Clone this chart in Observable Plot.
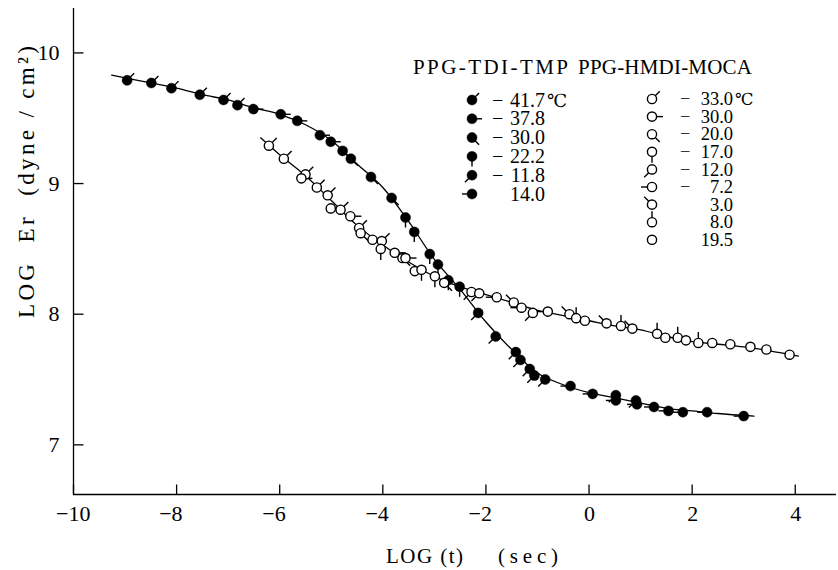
<!DOCTYPE html>
<html><head><meta charset="utf-8">
<script src="https://cdn.jsdelivr.net/npm/d3@7"></script>
<script src="https://cdn.jsdelivr.net/npm/@observablehq/plot@0.6"></script>
<style>html,body{margin:0;padding:0;background:#fff} svg{display:block}</style>
</head><body><div id="chart"></div>
<script>
// ---- data ----
const xTicks = [-10, -8, -6, -4, -2, 0, 2, 4];
const yTicks = [7, 8, 9, 10];

// PPG-TDI-TMP (filled circles)
const tmpX = [-8.96,-8.49,-8.10,-7.55,-7.09,-6.82,-6.51,-5.98,-5.66,-5.22,-5.01,-4.78,-4.62,-4.23,-3.83,-3.56,-3.39,-3.09,-2.93,-2.73,-2.51,-2.15,-1.81,-1.42,-1.33,-1.15,-1.06,-0.85,-0.36,0.07,0.52,0.52,0.91,0.93,1.26,1.54,1.82,2.29,3.00];
const tmpY = [9.79,9.77,9.73,9.68,9.64,9.60,9.57,9.53,9.48,9.37,9.32,9.25,9.19,9.05,8.89,8.74,8.63,8.46,8.38,8.26,8.21,8.01,7.83,7.71,7.65,7.58,7.53,7.50,7.45,7.39,7.38,7.34,7.34,7.31,7.29,7.26,7.25,7.25,7.22];
const tmpT = [-41.7,-41.7,-41.7,-41.7,-41.7,-41.7,-37.8,-37.8,-37.8,-37.8,-37.8,-30,-30,-30,-30,-22.2,-22.2,-22.2,-22.2,-22.2,-22.2,-11.8,-11.8,-11.8,-11.8,-11.8,-11.8,-11.8,14,14,-11.8,14,-11.8,14,14,14,14,14,14];
const tmpCurveX = [-9.26,-8.5,-8,-7.5,-7,-6.5,-6,-5.5,-5,-4.5,-4,-3.5,-3,-2.5,-2,-1.5,-1,-0.5,0,0.5,1,1.5,2,2.5,3.2];
const tmpCurveY = [9.83,9.77,9.73,9.68,9.64,9.58,9.53,9.45,9.33,9.15,8.97,8.71,8.42,8.19,7.94,7.73,7.55,7.46,7.40,7.36,7.32,7.28,7.26,7.24,7.22];
const tmpTemps = [-41.7, -37.8, -30.0, -22.2, -11.8, 14.0];
const tmpFlags = [45, 90, 135, 180, 225, 270];

// PPG-HMDI-MOCA (open circles)
const mocaX = [-6.21,-5.92,-5.50,-5.58,-5.28,-5.07,-5.01,-4.82,-4.63,-4.46,-4.43,-4.20,-4.02,-4.04,-3.77,-3.62,-3.56,-3.38,-3.25,-2.99,-2.81,-2.28,-2.13,-1.79,-1.46,-1.31,-1.09,-0.80,-0.38,-0.25,-0.08,0.34,0.62,0.84,1.32,1.48,1.72,1.88,2.12,2.39,2.74,3.13,3.44,3.89];
const mocaY = [9.29,9.19,9.07,9.04,8.97,8.91,8.81,8.80,8.75,8.66,8.62,8.57,8.56,8.50,8.47,8.43,8.43,8.33,8.34,8.29,8.24,8.17,8.16,8.13,8.09,8.05,8.01,8.02,8.00,7.97,7.95,7.93,7.91,7.89,7.85,7.82,7.82,7.80,7.78,7.78,7.77,7.75,7.73,7.69];
const mocaT = [-33,-33,-33,-30,-33,-33,-30,-33,-30,-33,-20,-30,-33,-17,-30,-20,-30,-30,-17,-17,-20,-12,-12,-7.2,3,-7.2,-12,-7.2,3,8,-7.2,3,8,3,8,3,8,-7.2,8,19.5,19.5,19.5,19.5,19.5];
const mocaCurveX = [-6.37,-6,-5.5,-5,-4.5,-4,-3.5,-3,-2.5,-2,-1.5,-1,-0.5,0,0.5,1,1.5,2,2.5,3,3.5,4.06];
const mocaCurveY = [9.35,9.22,9.06,8.87,8.68,8.53,8.40,8.29,8.21,8.15,8.09,8.03,7.99,7.95,7.91,7.88,7.83,7.79,7.77,7.75,7.72,7.68];
const mocaTemps = [-33.0, -30.0, -20.0, -17.0, -12.0, -7.2, 3.0, 8.0, 19.5];
const mocaFlags = [45, 90, 135, 180, 225, 270, 315, 0, null];

const xDomain = [-10, 4.8];
const yDomain = [6.62, 10.34];

// ---- build tables ----
const flagOf = (temps, flags) => t => flags[temps.findIndex(v => Math.abs(v - t) < 1e-6)];
const tmpFlag = flagOf(tmpTemps, tmpFlags);
const mocaFlag = flagOf(mocaTemps, mocaFlags);
const tmpPts = tmpX.map((x, i) => ({x, y: tmpY[i], a: tmpFlag(tmpT[i])}));
const mocaPts = mocaX.map((x, i) => ({x, y: mocaY[i], a: mocaFlag(mocaT[i])}));
const tmpCurve = tmpCurveX.map((x, i) => ({x, y: tmpCurveY[i]}));
const mocaCurve = mocaCurveX.map((x, i) => ({x, y: mocaCurveY[i]}));

const stem = {draw(ctx, size) { const r = Math.sqrt(size / Math.PI); ctx.moveTo(0, 0); ctx.lineTo(0, -r); }};
const minus = v => (v < 0 ? "\u2212" : "") + Math.abs(v);
const serif = "'Liberation Serif','DejaVu Serif',serif";

const plot = Plot.plot({
  width: 838, height: 570,
  marginLeft: 73, marginRight: 2, marginTop: 8, marginBottom: 76,
  x: {domain: xDomain, axis: null},
  y: {domain: yDomain, axis: null},
  style: {fontFamily: serif, fontSize: "21px", background: "#fff", color: "#000"},
  marks: [
    Plot.ruleX([xDomain[0]], {stroke: "#000", strokeWidth: 1.3}),
    Plot.ruleY([yDomain[0]], {stroke: "#000", strokeWidth: 1.3}),
    Plot.dot(yTicks, {x: () => xDomain[0], y: d => d, r: 10, symbol: stem, rotate: 90, stroke: "#000", fill: "none", strokeWidth: 1.3}),
    Plot.dot(xTicks, {x: d => d, y: () => yDomain[0], r: 10, symbol: stem, rotate: 0, stroke: "#000", fill: "none", strokeWidth: 1.3}),
    Plot.text(yTicks, {x: () => xDomain[0], y: d => d, text: d => String(d), textAnchor: "end", dx: -14, fontSize: 22, fill: "#000"}),
    Plot.text(xTicks.filter(d => Math.abs(d) < 10), {x: d => d, y: () => yDomain[0], text: minus, textAnchor: "end", dx: 6, dy: 19, fontSize: 22, fill: "#000"}),
    Plot.text(xTicks.filter(d => Math.abs(d) >= 10), {x: d => d, y: () => yDomain[0], text: minus, textAnchor: "end", dx: 17, dy: 19, fontSize: 22, fill: "#000"}),
    Plot.line(tmpCurve, {x: "x", y: "y", curve: "catmull-rom", stroke: "#000", strokeWidth: 1.3}),
    Plot.line(mocaCurve, {x: "x", y: "y", curve: "catmull-rom", stroke: "#000", strokeWidth: 1.3}),
    Plot.dot(tmpPts.filter(d => d.a != null), {x: "x", y: "y", r: 10, symbol: stem, rotate: "a", stroke: "#000", fill: "none", strokeWidth: 1.4}),
    Plot.dot(mocaPts.filter(d => d.a != null), {x: "x", y: "y", r: 11, symbol: stem, rotate: "a", stroke: "#000", fill: "none", strokeWidth: 1.4}),
    Plot.dot(tmpPts, {x: "x", y: "y", r: 5, fill: "#000", stroke: "#000", strokeWidth: 0.5}),
    Plot.dot(mocaPts, {x: "x", y: "y", r: 4.6, fill: "#fff", stroke: "#000", strokeWidth: 1.4})
  ]
});

const svg = d3.select(plot);
const g = svg.append("g").attr("font-family", serif).attr("fill", "#000").attr("text-anchor", "start");

// axis titles
g.append("text").attr("x", 386).attr("y", 563).attr("font-size", 21).attr("textLength", 77).attr("lengthAdjust", "spacing").text("LOG (t)");
g.append("text").attr("x", 498).attr("y", 563).attr("font-size", 21).attr("textLength", 60).attr("lengthAdjust", "spacing").text("(sec)");
g.append("text").attr("transform", "translate(34,318) rotate(-90)")
  .attr("font-size", 23).attr("textLength", 272).attr("lengthAdjust", "spacing").text("LOG  Er  (dyne / cm²)");

// legend titles
g.append("text").attr("x", 413).attr("y", 74).attr("font-size", 21).attr("textLength", 155).attr("lengthAdjust", "spacing").text("PPG-TDI-TMP");
g.append("text").attr("x", 578).attr("y", 74).attr("font-size", 21).attr("textLength", 174).attr("lengthAdjust", "spacing").text("PPG-HMDI-MOCA");

// legend columns: symbols, then one multi-line text per column part
function legendColumn(temps, flags, cx, y0, step, filled, minusX, numEnd, fs) {
  const ys = temps.map((t, i) => y0 + i * step);
  temps.forEach((t, i) => {
    const cy = ys[i], angle = flags[i];
    if (angle != null) {
      const rad = angle * Math.PI / 180, L = filled ? 10 : 11;
      g.append("line").attr("x1", cx).attr("y1", cy)
        .attr("x2", cx + L * Math.sin(rad)).attr("y2", cy - L * Math.cos(rad))
        .attr("stroke", "#000").attr("stroke-width", 1.4);
    }
    g.append("circle").attr("cx", cx).attr("cy", cy).attr("r", filled ? 5 : 4.6)
      .attr("fill", filled ? "#000" : "#fff").attr("stroke", "#000").attr("stroke-width", filled ? 0.5 : 1.4);
  });
  const off = fs * 0.33;
  const tm = g.append("text").attr("font-size", fs);
  temps.forEach((t, i) => { if (t < 0) tm.append("tspan").attr("x", minusX).attr("y", ys[i] + off).text("\u2212"); });
  const tn = g.append("text").attr("font-size", fs).attr("text-anchor", "end");
  temps.forEach((t, i) => tn.append("tspan").attr("x", numEnd).attr("y", ys[i] + off).text(Math.abs(t).toFixed(1)));
  g.append("text").attr("x", numEnd + 2).attr("y", ys[0] + off).attr("font-size", fs - 2).text("℃");
}
legendColumn(tmpTemps, tmpFlags, 472, 100, 18.8, true, 492, 545, 20);
legendColumn(mocaTemps, mocaFlags, 652, 99, 17.6, false, 680, 733, 18.5);

document.getElementById("chart").appendChild(plot);
</script>
</body></html>
